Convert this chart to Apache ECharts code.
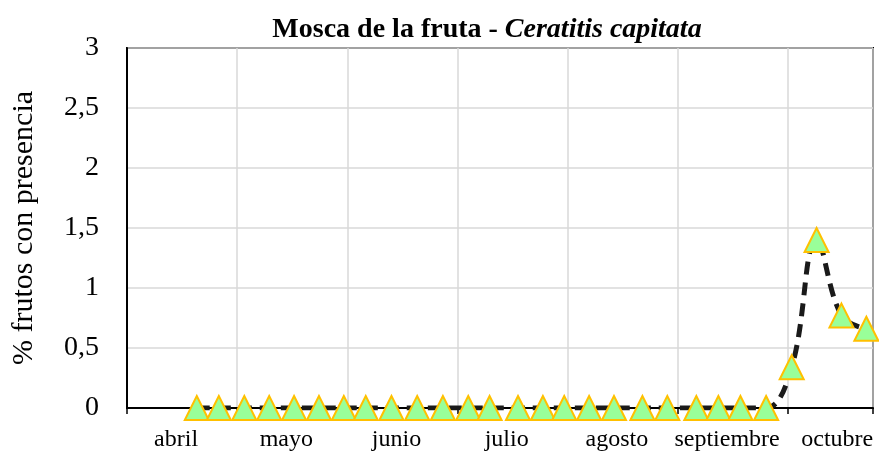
<!DOCTYPE html>
<html lang="es">
<head>
    <meta charset="utf-8">
    <title>Mosca de la fruta</title>
    <script src="https://cdn.jsdelivr.net/npm/echarts@6/dist/echarts.min.js"></script>
    <style>
        html, body { margin: 0; padding: 0; background: #fff; }
        #main { width: 879px; height: 453px; }
    </style>
</head>
<body>
<div id="main"></div>
<script>
    // fechas de muestreo (mes-dia) y % de frutos con presencia
    var fechas = ['04-20', '04-26', '05-03', '05-10', '05-17', '05-24', '05-31',
        '06-06', '06-13', '06-20', '06-27', '07-04', '07-10', '07-18', '07-25', '07-31',
        '08-07', '08-14', '08-22', '08-29', '09-06', '09-12', '09-18', '09-25',
        '10-02', '10-09', '10-16', '10-23'];
    var presencia = [0, 0, 0, 0, 0, 0, 0,
        0, 0, 0, 0, 0, 0, 0, 0, 0,
        0, 0, 0, 0, 0, 0, 0, 0,
        0.34, 1.4, 0.77, 0.66];
    var meses = ['abril', 'mayo', 'junio', 'julio', 'agosto', 'septiembre', 'octubre'];
    var diasMes = [30, 31, 30, 31, 31, 30, 31];
    var finEje = 6.77;   // el eje termina a finales de octubre

    // posicion en "meses desde el 1 de abril"
    function posMes(f) {
        var m = parseInt(f.substr(0, 2), 10) - 4;
        var d = parseInt(f.substr(3, 2), 10);
        return m + (d - 1) / diasMes[m];
    }
    var datos = [];
    for (var i = 0; i < fechas.length; i++) {
        datos.push([posMes(fechas[i]), presencia[i]]);
    }

    var serif = 'Liberation Serif';
    var myChart = echarts.init(document.getElementById('main'));
    var option = {
        backgroundColor: '#fff',
        animation: false,
        title: {
            text: '{b|Mosca de la fruta - }{i|Ceratitis capitata}',
            left: 482,
            top: 11,
            textAlign: 'center',
            textStyle: {
                rich: {
                    b: { fontFamily: serif, fontSize: 28, fontWeight: 'bold', color: '#000' },
                    i: { fontFamily: serif, fontSize: 28, fontWeight: 'bold', fontStyle: 'italic', color: '#000' }
                }
            }
        },
        grid: {
            left: 127, right: 6, top: 48, bottom: 45,
            show: true, borderColor: '#000', borderWidth: 2
        },
        xAxis: [{
            type: 'value',
            min: 0, max: finEje, interval: 1,
            axisLine: { lineStyle: { color: '#000', width: 2 } },
            axisTick: { show: true, length: 6, lineStyle: { color: '#000', width: 1.5 } },
            axisLabel: { show: false },
            splitLine: { show: true, lineStyle: { color: '#d9d9d9', width: 1.5 } }
        }, {
            type: 'value',
            position: 'bottom',
            min: 0, max: finEje, interval: 0.5,
            axisLine: { show: false },
            axisTick: { show: false },
            splitLine: { show: false },
            axisLabel: {
                margin: 20,
                fontFamily: serif, fontSize: 24, color: '#000',
                padding: [0, 12, 0, 0],
                formatter: function (v) {
                    var k = Math.floor(v);
                    if (Math.abs(v - k - 0.5) < 1e-6 && k < meses.length) return meses[k];
                    return '';
                }
            }
        }],
        yAxis: {
            type: 'value',
            min: 0, max: 3, interval: 0.5,
            name: '% frutos con presencia',
            nameLocation: 'middle',
            nameGap: 88,
            nameTextStyle: { fontFamily: serif, fontSize: 30, color: '#000' },
            axisLine: { show: true, lineStyle: { color: '#000', width: 2 } },
            axisTick: { show: false },
            axisLabel: {
                margin: 28,
                fontFamily: serif, fontSize: 28, color: '#000',
                formatter: function (v) { return String(v).replace('.', ','); }
            },
            splitLine: { lineStyle: { color: '#d9d9d9', width: 1.5 } }
        },
        series: [{
            type: 'line',
            xAxisIndex: 0,
            data: datos,
            smooth: 0.4,
            symbol: 'triangle',
            symbolSize: [24, 24],
            lineStyle: { color: '#1a1a1a', width: 5, type: [13, 8] },
            itemStyle: { color: '#99ff99', borderColor: '#ffc000', borderWidth: 2 },
            z: 3
        }]
    };
    myChart.setOption(option);
</script>
</body>
</html>
